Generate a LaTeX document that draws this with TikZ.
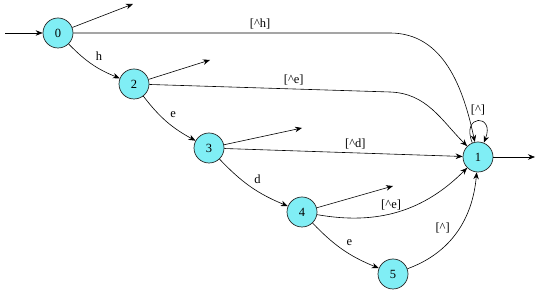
\documentclass[tikz,border=0pt]{standalone}
\usepackage{fontspec}
\setmainfont{Liberation Serif}
\usepackage{xcolor}
\usetikzlibrary{arrows.meta}
\definecolor{statecyan}{RGB}{128,238,245}

\begin{document}
\begin{tikzpicture}[x=1pt,y=1pt,font=\fontsize{12.5}{14}\selectfont]

\tikzstyle{statenode} =
[circle,
minimum size=30pt,
inner sep=0pt,
draw=black!85,
line width=0.7pt,
fill=statecyan]

\tikzstyle{trans} =
[-{Stealth[length=7pt,width=5.5pt]},
line width=0.6pt]

\useasboundingbox (0,0) rectangle (540,296);

\node (n0) [statenode] at (58,263) {0};
\node (n2) [statenode] at (134,212) {2};
\node (n3) [statenode] at (209,148) {3};
\node (n4) [statenode] at (302,84) {4};
\node (n5) [statenode] at (393,22) {5};
\node (n1) [statenode] at (478,139) {1};

\coordinate (start) at (5,263);
\coordinate (final) at (535,139);
\coordinate (free0) at (133,292);
\coordinate (free2) at (210,236);
\coordinate (free3) at (302,168);
\coordinate (free4) at (393,110);
\coordinate (bend0) at (390,263);
\coordinate (bend2) at (390,204);

\draw[trans] (start) -- (n0);
\draw[trans] (n1) -- (final);

\draw[trans] (n0) -- (free0);
\draw[trans] (n2) -- (free2);
\draw[trans] (n3) -- (free3);
\draw[trans] (n4) -- (free4);

\draw[trans] (n0) to[bend right=12] node[auto] {h} (n2);
\draw[trans] (n2) to[bend right=12] node[auto] {e} (n3);
\draw[trans] (n3) to[bend right=12] node[auto] {d} (n4);
\draw[trans] (n4) to[bend right=12] node[auto] {e} (n5);

\draw[trans] (n0) -- node[above,pos=0.59] {[\textasciicircum h]} (bend0)
  to[out=0,in=102] (n1);
\draw[trans] (n2) -- node[above,pos=0.6] {[\textasciicircum e]} (bend2)
  to[out=-2,in=135] (n1);
\draw[trans] (n3) -- node[above,pos=0.55] {[\textasciicircum d]} (n1);
\draw[trans] (n4) to[out=-10,in=225] node[above,pos=0.45] {[\textasciicircum e]} (n1);
\draw[trans] (n5) to[out=20,in=-95] node[above left,pos=0.45] {[\textasciicircum]} (n1);
\draw[trans] (n1) to[out=112,in=68,looseness=7] node[above=2pt] {[\textasciicircum]} (n1);

\end{tikzpicture}
\end{document}
